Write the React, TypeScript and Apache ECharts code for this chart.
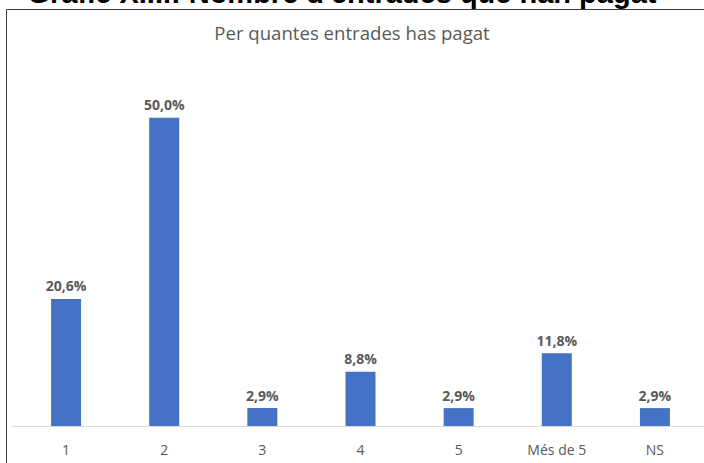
import React, { useEffect, useRef } from "react";
import * as echarts from "echarts";

const categories = ["1", "2", "3", "4", "5", "Més de 5", "NS"];
const values = [20.6, 50.0, 2.9, 8.8, 2.9, 11.8, 2.9];
const pageTitle = "Gràfic XIII.: Nombre d'entrades que han pagat";
const chartTitle = "Per quantes entrades has pagat";

export default function App() {
  const ref = useRef<HTMLDivElement>(null);
  useEffect(() => {
    if (!ref.current) return;
    const chart = echarts.init(ref.current, undefined, { renderer: "svg" });
    chart.setOption({
      animation: false,
      backgroundColor: "#ffffff",
      title: {
        text: chartTitle,
        left: "center",
        top: 18,
        textStyle: {
          fontFamily: "Open Sans",
          fontSize: 18.6,
          fontWeight: "normal",
          color: "#595959",
        },
      },
      grid: { left: 17, right: 0, top: 56, bottom: 37, containLabel: false },
      xAxis: {
        type: "category",
        data: categories,
        axisTick: { show: false },
        axisLine: { lineStyle: { color: "#d9d9d9", width: 1 } },
        axisLabel: {
          fontFamily: "Open Sans",
          fontSize: 14,
          color: "#595959",
          margin: 16,
        },
      },
      yAxis: {
        type: "value",
        min: 0,
        max: 60,
        show: false,
        splitLine: { show: false },
      },
      graphic: [
        {
          type: "text",
          x: 342,
          y: -7,
          style: {
            text: pageTitle,
            font: 'bold 29px "Liberation Sans", Arial, sans-serif',
            fill: "#000000",
            align: "center",
            verticalAlign: "middle",
          },
        },
        {
          type: "polyline",
          shape: { points: [[6.5, 470], [6.5, 9.5], [710, 9.5]] },
          style: { stroke: "#3f3f3f", lineWidth: 1, fill: "none" },
        },
        {
          type: "line",
          shape: { x1: 12, y1: 426.5, x2: 18, y2: 426.5 },
          style: { stroke: "#d9d9d9", lineWidth: 1 },
        },
      ],
      series: [
        {
          type: "bar",
          data: values,
          barWidth: 30,
          itemStyle: { color: "#4472C4" },
          label: {
            show: true,
            position: "top",
            distance: 6,
            formatter: (p: any) => p.value.toFixed(1).replace(".", ",") + "%",
            fontFamily: "Open Sans",
            fontWeight: "bold",
            fontSize: 14,
            color: "#595959",
          },
        },
      ],
    });
    return () => chart.dispose();
  }, []);
  return (
    <div
      ref={ref}
      style={{ position: "fixed", left: 0, top: 0, width: 704, height: 463 }}
    />
  );
}
